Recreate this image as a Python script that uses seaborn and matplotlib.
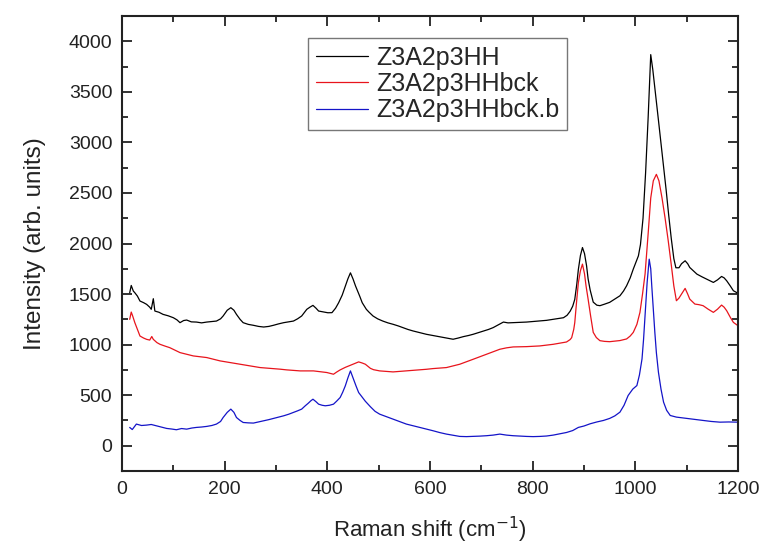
import numpy as np
import pandas as pd
import matplotlib
matplotlib.use("Agg")
import matplotlib.pyplot as plt
from matplotlib.ticker import MultipleLocator
import seaborn as sns

series_names = ["Z3A2p3HH", "Z3A2p3HHbck", "Z3A2p3HHbck.b"]
series_colors = ["#000000", "#e8141c", "#1414c8"]

black_x = [15, 18, 22, 25, 30, 35, 42, 48, 54, 57, 61, 64, 72, 80, 90, 100, 107, 113, 120, 126,
           135, 145, 155, 165, 175, 184, 192, 197, 205, 212, 218, 223, 230, 236, 246, 256, 266, 276,
           286, 295, 305, 315, 325, 334, 342, 350, 360, 366, 372, 378, 383, 393, 401, 409, 416, 422,
           429, 435, 440, 445, 450, 455, 463, 468, 476, 481, 489, 498, 508, 518, 528, 538, 547, 557,
           567, 580, 593, 606, 619, 632, 645, 655, 665, 675, 684, 694, 704, 714, 723, 733, 743, 752,
           762, 775, 788, 800, 814, 827, 840, 850, 860, 867, 873, 878, 882, 886, 889, 893, 897, 901,
           905, 908, 912, 918, 925, 931, 940, 950, 960, 970, 977, 983, 990, 996, 1003, 1006, 1010,
           1015, 1020, 1025, 1030, 1034, 1040, 1045, 1050, 1055, 1060, 1065, 1070, 1075, 1079, 1085,
           1090, 1097, 1102, 1106, 1113, 1120, 1130, 1139, 1146, 1152, 1160, 1168, 1173, 1178, 1185,
           1191, 1197, 1200]
black_y = [1513, 1585, 1530, 1513, 1480, 1431, 1415, 1398, 1370, 1349, 1454, 1332, 1320, 1299, 1285,
           1266, 1245, 1217, 1238, 1243, 1225, 1223, 1215, 1223, 1228, 1233, 1255, 1283, 1340, 1365,
           1340, 1299, 1250, 1217, 1200, 1191, 1180, 1174, 1180, 1191, 1205, 1217, 1225, 1233, 1255,
           1283, 1349, 1370, 1388, 1360, 1332, 1322, 1315, 1316, 1360, 1414, 1490, 1579, 1650, 1710,
           1650, 1579, 1480, 1414, 1349, 1322, 1283, 1255, 1233, 1215, 1201, 1185, 1168, 1150, 1135,
           1118, 1102, 1090, 1079, 1065, 1053, 1065, 1079, 1090, 1102, 1118, 1135, 1150, 1168, 1195,
           1223, 1215, 1217, 1220, 1223, 1228, 1233, 1240, 1250, 1258, 1266, 1290, 1330, 1380, 1447,
           1600, 1743, 1880, 1960, 1900, 1780, 1650, 1540, 1420, 1390, 1385, 1400, 1418, 1450, 1483,
           1530, 1582, 1660, 1747, 1840, 1878, 1990, 2250, 2700, 3250, 3868, 3720, 3450, 3220, 2990,
           2760, 2530, 2280, 2050, 1850, 1760, 1760, 1800, 1829, 1800, 1763, 1730, 1697, 1670, 1648,
           1630, 1615, 1640, 1674, 1660, 1631, 1580, 1533, 1516, 1500]

red_x = [15, 18, 21, 25, 30, 35, 42, 48, 54, 58, 61, 68, 74, 84, 93, 103, 113, 126, 139, 152, 165,
         178, 191, 204, 217, 230, 243, 256, 269, 282, 295, 308, 321, 334, 347, 360, 373, 386, 399,
         406, 412, 418, 425, 435, 445, 453, 461, 468, 474, 479, 484, 490, 502, 515, 528, 541, 554,
         567, 580, 593, 606, 619, 632, 645, 658, 671, 684, 697, 710, 723, 736, 749, 762, 775, 788,
         801, 814, 827, 840, 853, 866, 873, 876, 880, 882, 886, 889, 893, 897, 901, 904, 908, 913,
         918, 924, 931, 940, 950, 960, 970, 983, 990, 996, 1003, 1009, 1014, 1019, 1025, 1030, 1035,
         1041, 1046, 1052, 1058, 1064, 1070, 1075, 1080, 1085, 1090, 1097, 1102, 1106, 1116, 1124,
         1132, 1142, 1152, 1160, 1168, 1173, 1178, 1185, 1191, 1200]
red_y = [1250, 1322, 1280, 1217, 1150, 1085, 1065, 1052, 1045, 1080, 1052, 1020, 1003, 985, 970,
         945, 921, 905, 888, 880, 872, 855, 839, 828, 816, 805, 796, 785, 773, 768, 763, 757, 750,
         745, 740, 740, 740, 732, 724, 715, 707, 728, 750, 775, 796, 812, 829, 818, 806, 785, 765,
         752, 740, 735, 730, 735, 740, 745, 750, 756, 763, 768, 773, 790, 806, 830, 855, 880, 905,
         930, 954, 968, 977, 978, 980, 984, 987, 995, 1003, 1015, 1026, 1050, 1069, 1150, 1217, 1450,
         1612, 1730, 1796, 1700, 1580, 1450, 1280, 1121, 1070, 1039, 1032, 1029, 1035, 1040, 1056,
         1085, 1121, 1200, 1319, 1500, 1700, 2100, 2450, 2620, 2684, 2620, 2450, 2250, 2030, 1790,
         1580, 1434, 1460, 1500, 1556, 1500, 1450, 1401, 1395, 1385, 1350, 1319, 1350, 1391, 1370,
         1335, 1270, 1220, 1187]

blue_x = [15, 20, 28, 38, 48, 57, 67, 77, 87, 97, 106, 116, 126, 136, 145, 155, 165, 175, 184, 192,
          197, 205, 212, 218, 223, 230, 236, 246, 256, 266, 276, 286, 295, 305, 315, 325, 334, 342,
          350, 357, 363, 368, 372, 378, 383, 390, 396, 404, 412, 418, 425, 430, 435, 440, 445, 448,
          451, 456, 461, 468, 474, 484, 493, 502, 515, 528, 541, 554, 567, 580, 593, 606, 619, 632,
          645, 658, 671, 684, 697, 710, 723, 736, 749, 762, 775, 788, 801, 814, 827, 840, 853, 866,
          878, 889, 900, 912, 925, 938, 950, 960, 970, 978, 986, 995, 1003, 1008, 1013, 1016, 1019,
          1023, 1027, 1030, 1032, 1035, 1038, 1041, 1045, 1050, 1055, 1061, 1068, 1080, 1093, 1106,
          1119, 1132, 1148, 1165, 1182, 1200]
blue_y = [181, 160, 214, 200, 204, 210, 197, 185, 171, 165, 158, 170, 164, 175, 181, 185, 191, 200,
          214, 240, 279, 330, 362, 330, 279, 250, 230, 226, 224, 235, 247, 258, 270, 283, 296, 312,
          329, 345, 362, 395, 421, 445, 460, 435, 411, 400, 395, 400, 411, 440, 477, 530, 592, 670,
          740, 700, 658, 590, 526, 480, 440, 385, 340, 312, 288, 263, 238, 214, 197, 181, 165, 148,
          130, 115, 103, 92, 90, 92, 95, 99, 105, 115, 105, 99, 95, 92, 90, 92, 96, 105, 118, 131,
          150, 181, 195, 217, 235, 250, 270, 295, 332, 400, 497, 560, 595, 700, 858, 1050, 1286,
          1615, 1845, 1750, 1582, 1350, 1121, 920, 727, 560, 431, 350, 299, 283, 275, 266, 258, 250,
          240, 233, 235, 233]

x_ticks = [0, 200, 400, 600, 800, 1000, 1200]
y_ticks = [0, 500, 1000, 1500, 2000, 2500, 3000, 3500, 4000]

frames = []
for name, xs, ys in zip(series_names, [black_x, red_x, blue_x], [black_y, red_y, blue_y]):
    frames.append(pd.DataFrame({"shift": xs, "intensity": ys, "series": name}))
df = pd.concat(frames, ignore_index=True)

sns.set_style("ticks")
plt.rcParams["font.family"] = ["Liberation Sans", "DejaVu Sans"]

fig = plt.figure(figsize=(7.63, 5.45), dpi=100)
ax = fig.add_axes([122 / 763, 1 - 471 / 545, 616 / 763, 455 / 545])

sns.lineplot(data=df, x="shift", y="intensity", hue="series", hue_order=series_names,
             palette=series_colors, estimator=None, sort=True, linewidth=0.9, ax=ax)

ax.set_xlim(0, 1200)
ax.set_ylim(-250, 4250)
ax.set_xticks(x_ticks)
ax.set_yticks(y_ticks)
ax.xaxis.set_minor_locator(MultipleLocator(100))
ax.yaxis.set_minor_locator(MultipleLocator(250))
ax.tick_params(which="both", direction="in", top=True, right=True, colors="#222222",
               labelsize=14, width=1.3)
ax.tick_params(which="major", length=7, pad=7)
ax.tick_params(which="minor", length=4)
for s in ax.spines.values():
    s.set_linewidth(1.5)
    s.set_color("#222222")

ax.set_xlabel("Raman shift (cm$^{-1}$)", fontsize=16, color="#222222", labelpad=12)
ax.set_ylabel("Intensity (arb. units)", fontsize=17.5, color="#222222", labelpad=16)

leg = ax.legend(loc="upper left", bbox_to_anchor=((308 - 122) / 616, (471 - 38) / 455),
                borderaxespad=0, fontsize=18, frameon=True, fancybox=False,
                handlelength=2.1, handletextpad=0.32, labelspacing=0.1, borderpad=0.3)
leg.get_frame().set_edgecolor("#555555")
leg.get_frame().set_linewidth(1.0)
for line in leg.get_lines():
    line.set_linewidth(0.9)

fig.savefig("out.png", dpi=100)
